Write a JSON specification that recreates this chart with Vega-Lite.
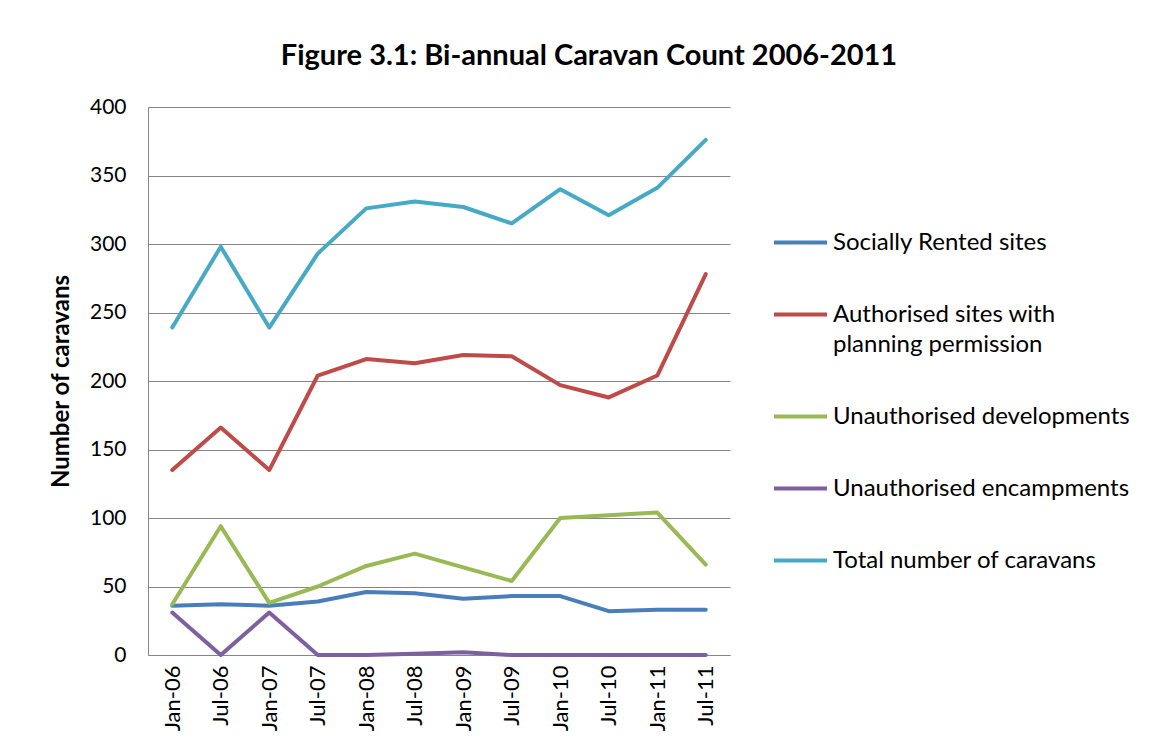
{
  "$schema": "https://vega.github.io/schema/vega-lite/v6.json",
  "autosize": {"type": "none"},
  "width": 582,
  "height": 548,
  "padding": {"left": 148, "top": 107, "right": 439, "bottom": 94},
  "background": "white",
  "config": {
    "font": "Lato",
    "view": {"stroke": null}
  },
  "title": {
    "text": "Figure 3.1: Bi-annual  Caravan Count 2006-2011",
    "font": "Lato",
    "fontSize": 29,
    "fontWeight": "bold",
    "color": "#000000",
    "anchor": "middle",
    "dx": 150,
    "offset": 25
  },
  "data": {
    "values": [
      {"period": "Jan-06", "series": "Socially Rented sites", "value": 36},
      {"period": "Jul-06", "series": "Socially Rented sites", "value": 37},
      {"period": "Jan-07", "series": "Socially Rented sites", "value": 36},
      {"period": "Jul-07", "series": "Socially Rented sites", "value": 39},
      {"period": "Jan-08", "series": "Socially Rented sites", "value": 46},
      {"period": "Jul-08", "series": "Socially Rented sites", "value": 45},
      {"period": "Jan-09", "series": "Socially Rented sites", "value": 41},
      {"period": "Jul-09", "series": "Socially Rented sites", "value": 43},
      {"period": "Jan-10", "series": "Socially Rented sites", "value": 43},
      {"period": "Jul-10", "series": "Socially Rented sites", "value": 32},
      {"period": "Jan-11", "series": "Socially Rented sites", "value": 33},
      {"period": "Jul-11", "series": "Socially Rented sites", "value": 33},
      {"period": "Jan-06", "series": "Authorised sites with planning permission", "value": 135},
      {"period": "Jul-06", "series": "Authorised sites with planning permission", "value": 166},
      {"period": "Jan-07", "series": "Authorised sites with planning permission", "value": 135},
      {"period": "Jul-07", "series": "Authorised sites with planning permission", "value": 204},
      {"period": "Jan-08", "series": "Authorised sites with planning permission", "value": 216},
      {"period": "Jul-08", "series": "Authorised sites with planning permission", "value": 213},
      {"period": "Jan-09", "series": "Authorised sites with planning permission", "value": 219},
      {"period": "Jul-09", "series": "Authorised sites with planning permission", "value": 218},
      {"period": "Jan-10", "series": "Authorised sites with planning permission", "value": 197},
      {"period": "Jul-10", "series": "Authorised sites with planning permission", "value": 188},
      {"period": "Jan-11", "series": "Authorised sites with planning permission", "value": 204},
      {"period": "Jul-11", "series": "Authorised sites with planning permission", "value": 278},
      {"period": "Jan-06", "series": "Unauthorised developments", "value": 37},
      {"period": "Jul-06", "series": "Unauthorised developments", "value": 94},
      {"period": "Jan-07", "series": "Unauthorised developments", "value": 38},
      {"period": "Jul-07", "series": "Unauthorised developments", "value": 50},
      {"period": "Jan-08", "series": "Unauthorised developments", "value": 65},
      {"period": "Jul-08", "series": "Unauthorised developments", "value": 74},
      {"period": "Jan-09", "series": "Unauthorised developments", "value": 64},
      {"period": "Jul-09", "series": "Unauthorised developments", "value": 54},
      {"period": "Jan-10", "series": "Unauthorised developments", "value": 100},
      {"period": "Jul-10", "series": "Unauthorised developments", "value": 102},
      {"period": "Jan-11", "series": "Unauthorised developments", "value": 104},
      {"period": "Jul-11", "series": "Unauthorised developments", "value": 66},
      {"period": "Jan-06", "series": "Unauthorised encampments", "value": 31},
      {"period": "Jul-06", "series": "Unauthorised encampments", "value": 0},
      {"period": "Jan-07", "series": "Unauthorised encampments", "value": 31},
      {"period": "Jul-07", "series": "Unauthorised encampments", "value": 0},
      {"period": "Jan-08", "series": "Unauthorised encampments", "value": 0},
      {"period": "Jul-08", "series": "Unauthorised encampments", "value": 1},
      {"period": "Jan-09", "series": "Unauthorised encampments", "value": 2},
      {"period": "Jul-09", "series": "Unauthorised encampments", "value": 0},
      {"period": "Jan-10", "series": "Unauthorised encampments", "value": 0},
      {"period": "Jul-10", "series": "Unauthorised encampments", "value": 0},
      {"period": "Jan-11", "series": "Unauthorised encampments", "value": 0},
      {"period": "Jul-11", "series": "Unauthorised encampments", "value": 0},
      {"period": "Jan-06", "series": "Total number of caravans", "value": 239},
      {"period": "Jul-06", "series": "Total number of caravans", "value": 298},
      {"period": "Jan-07", "series": "Total number of caravans", "value": 239},
      {"period": "Jul-07", "series": "Total number of caravans", "value": 293},
      {"period": "Jan-08", "series": "Total number of caravans", "value": 326},
      {"period": "Jul-08", "series": "Total number of caravans", "value": 331},
      {"period": "Jan-09", "series": "Total number of caravans", "value": 327},
      {"period": "Jul-09", "series": "Total number of caravans", "value": 315},
      {"period": "Jan-10", "series": "Total number of caravans", "value": 340},
      {"period": "Jul-10", "series": "Total number of caravans", "value": 321},
      {"period": "Jan-11", "series": "Total number of caravans", "value": 341},
      {"period": "Jul-11", "series": "Total number of caravans", "value": 376}
    ]
  },
  "mark": {"type": "line", "strokeWidth": 4, "strokeCap": "round", "strokeJoin": "round"},
  "encoding": {
    "x": {
      "field": "period",
      "type": "ordinal",
      "sort": null,
      "scale": {"type": "point", "padding": 0.5},
      "axis": {
        "title": null,
        "labelAngle": -90,
        "labelAlign": "right",
        "labelBaseline": "middle",
        "labelFontSize": 22,
        "labelColor": "#000000",
        "labelPadding": 10,
        "ticks": false,
        "domainColor": "#868686",
        "domainWidth": 1,
        "grid": false
      }
    },
    "y": {
      "field": "value",
      "type": "quantitative",
      "scale": {"domain": [0, 400], "nice": false},
      "axis": {
        "title": "Number of caravans",
        "titleFontSize": 24,
        "titleFontWeight": "bold",
        "titleColor": "#000000",
        "titlePadding": 16,
        "values": [0, 50, 100, 150, 200, 250, 300, 350, 400],
        "labelFontSize": 21,
        "labelColor": "#000000",
        "labelPadding": 22,
        "ticks": false,
        "domainColor": "#868686",
        "domainWidth": 1,
        "gridColor": "#868686",
        "gridWidth": 1,
        "gridOpacity": 1
      }
    },
    "color": {
      "field": "series",
      "type": "nominal",
      "sort": ["Socially Rented sites", "Authorised sites with planning permission", "Unauthorised developments", "Unauthorised encampments", "Total number of caravans"],
      "scale": {
        "domain": ["Socially Rented sites", "Authorised sites with planning permission", "Unauthorised developments", "Unauthorised encampments", "Total number of caravans"],
        "range": ["#4A7EBB", "#BE4B48", "#98B954", "#7D60A0", "#46AAC5"]
      },
      "legend": {
        "title": null,
        "orient": "none",
        "legendX": 624,
        "legendY": 107,
        "symbolType": "stroke",
        "symbolSize": 2809,
        "symbolStrokeWidth": 4,
        "labelFontSize": 24,
        "labelColor": "#000000",
        "labelLimit": 500,
        "labelOffset": 4,
        "rowPadding": 31,
        "encode": {"labels": {"update": {"lineHeight": {"value": 30}}}},
        "labelExpr": "datum.label == 'Authorised sites with planning permission' ? ['Authorised sites with', 'planning permission'] : datum.label"
      }
    }
  }
}
